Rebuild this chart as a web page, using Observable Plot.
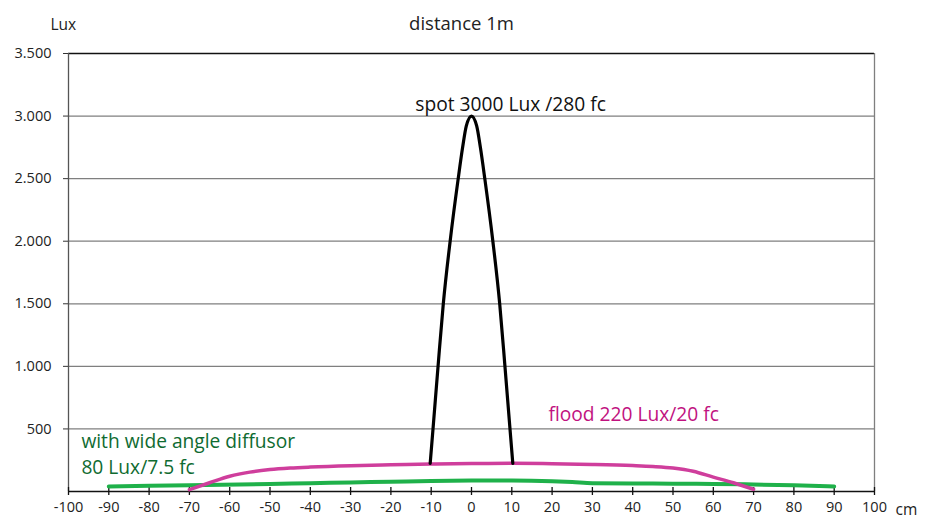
<!DOCTYPE html>
<html>
<head>
<meta charset="utf-8">
<script src="https://cdn.jsdelivr.net/npm/d3@7"></script>
<script src="https://cdn.jsdelivr.net/npm/@observablehq/plot@0.6"></script>
<style>
  html, body { margin: 0; padding: 0; background: #fff; }
  svg { overflow: visible; }
</style>
</head>
<body>
<div id="chart"></div>
<script>
// Distance from centre (cm) and illuminance (Lux)
const spotX = [-10.25, -9.55, -8.3, -7.0, -5.3, -3.3, -2.2, -1.3, 0, 1.3, 2.2, 3.3, 5.3, 7.0, 8.3, 9.55, 10.25];
const spotY = [225, 500, 1000, 1500, 2000, 2500, 2750, 2920, 3000, 2920, 2750, 2500, 2000, 1500, 1000, 500, 225];

const floodX = [-70, -65, -60, -55, -50, -45, -40, -30, -20, -10, 0, 10, 20, 30, 40, 45, 50, 55, 60, 65, 70];
const floodY = [15, 70, 122, 155, 175, 187, 195, 206, 213, 220, 224, 225, 222, 216, 207, 200, 188, 162, 115, 70, 18];

const wideX = [-90, -70, -50, -40, -30, -20, -10, 0, 10, 20, 25, 30, 40, 50, 60, 70, 80, 90];
const wideY = [40, 50, 60, 66, 72, 78, 84, 87, 88, 82, 75, 66, 64, 62, 60, 56, 50, 40];

const xTicks = d3.range(-100, 101, 10);
const yGrid = [500, 1000, 1500, 2000, 2500, 3000, 3500];

const titleText = "distance 1m";
const spotLabel = "spot 3000 Lux /280 fc";
const floodLabel = "flood 220 Lux/20 fc";
const wideLabel1 = "with wide angle diffusor";
const wideLabel2 = "80 Lux/7.5 fc";

const spot = spotX.map((x, i) => ({x, y: spotY[i]}));
const flood = floodX.map((x, i) => ({x, y: floodY[i]}));
const wide = wideX.map((x, i) => ({x, y: wideY[i]}));

const fmt = (d) => d3.format(",")(d).replace(/,/g, ".");

const FONT = "'Open Sans', sans-serif";

const chart = Plot.plot({
  width: 929,
  height: 521,
  marginLeft: 68,
  marginRight: 55,
  marginTop: 53,
  marginBottom: 30,
  style: {fontFamily: FONT, fontSize: "14px", color: "#222", background: "#fff"},
  x: {domain: [-100, 100]},
  y: {domain: [0, 3500]},
  marks: [
    Plot.ruleY(yGrid, {x1: -100, x2: 100, stroke: (d) => d === 3500 ? "#111" : "#7f7f7f", strokeWidth: 1.3}),
    Plot.ruleX([100], {y1: 0, y2: 3500, stroke: "#7f7f7f", strokeWidth: 1.3}),
    Plot.ruleX([-100], {y1: 0, y2: 3500, stroke: "#555", strokeWidth: 1.3}),
    Plot.axisY({ticks: yGrid, tickFormat: fmt, tickSize: 5, tickPadding: 12, stroke: "#333", label: null, fontSize: 14.5}),
    Plot.ruleY([0], {x1: -100, x2: 100, stroke: "#111", strokeWidth: 1.5}),
    Plot.ruleX(xTicks, {y1: -32, y2: 32, stroke: "#111", strokeWidth: 1.3}),
    Plot.axisX({ticks: xTicks, tickFormat: (d) => String(d), tickSize: 0, tickPadding: 10, label: null, fontSize: 14.5}),
    Plot.line(wide, {x: "x", y: "y", stroke: "#1fb14a", strokeWidth: 4, curve: "monotone-x"}),
    Plot.line(flood, {x: "x", y: "y", stroke: "#cf3e9c", strokeWidth: 3.5, curve: "monotone-x"}),
    Plot.line(spot, {x: "x", y: "y", stroke: "#000", strokeWidth: 3.2, curve: "monotone-x"}),
    Plot.text([titleText], {frameAnchor: "top", dx: -10, dy: -37, fontSize: 18.5, fill: "#222"}),
    Plot.text(["Lux"], {frameAnchor: "top-left", dx: -18, dy: -35, fontSize: 15.5, fill: "#222", textAnchor: "start"}),
    Plot.text(["cm"], {frameAnchor: "bottom-right", dx: 21, dy: 23, fontSize: 15.5, fill: "#222", textAnchor: "start"}),
    Plot.text([spotLabel], {x: 9.7, y: 3090, fontSize: 19.2, fill: "#111", textAnchor: "middle"}),
    Plot.text([floodLabel], {x: 19.1, y: 615, fontSize: 19.2, fill: "#c1127f", textAnchor: "start"}),
    Plot.text([wideLabel1], {x: -96.8, y: 400, fontSize: 19.2, fill: "#0f6b31", textAnchor: "start"}),
    Plot.text([wideLabel2], {x: -96.8, y: 190, fontSize: 19.2, fill: "#0f6b31", textAnchor: "start"})
  ]
});
document.getElementById("chart").appendChild(chart);
</script>
</body>
</html>
